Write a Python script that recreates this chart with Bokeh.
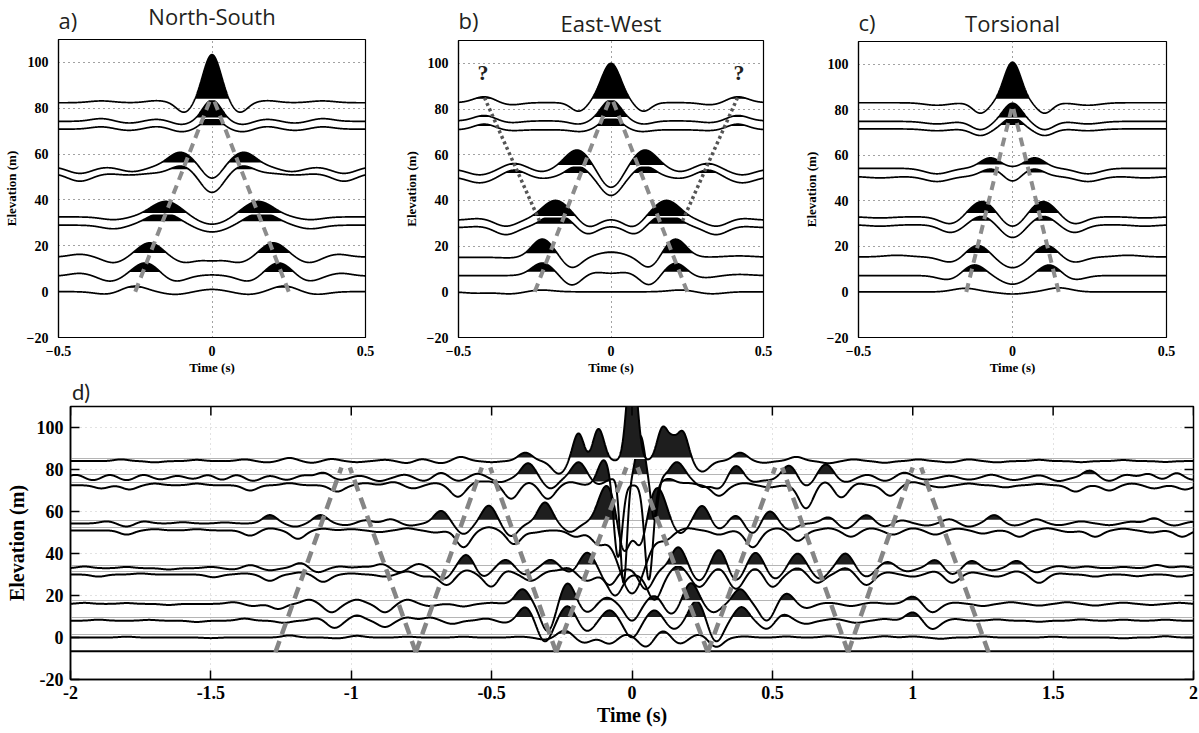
import numpy as np
from bokeh.plotting import figure
from bokeh.models import Range1d, FixedTicker
from bokeh.core.properties import value
from bokeh.layouts import column, row
from bokeh.embed import file_html
from bokeh.resources import INLINE

SERIF = "Liberation Serif"
SANS = "Open Sans"

# ---------------- data ----------------
# Each trace: resting elevation (m) and its pulses (time s, amplitude m[, width s])
top_xticks = [-0.5, 0, 0.5]
top_yticks = [-20, 0, 20, 40, 60, 80, 100]
d_xticks = [-2, -1.5, -1, -0.5, 0, 0.5, 1, 1.5, 2]
d_yticks = [-20, 0, 20, 40, 60, 80, 100]

panel_letters = ["a)", "b)", "c)", "d)"]
panel_titles = ["North-South", "East-West", "Torsional"]

a_base = [0.0, 6.8, 15.1, 29.0, 32.6, 51.7, 54.6, 70.9, 74.3, 82.4]
a_pulses = [
    [(-0.34, -1.2, 0.04), (-0.255, 2.5, 0.04), (-0.12, -1.2, 0.04), (0.0, 1.0, 0.04), (0.12, -1.2, 0.04), (0.235, 2.5, 0.04), (0.34, -1.2, 0.04)],
    [(-0.43, 1.2, 0.035), (-0.33, -2.3, 0.035), (-0.217, 5.8, 0.04), (-0.12, -2.4, 0.035), (0.0, 0.5, 0.04), (0.12, -2.4, 0.035), (0.217, 5.8, 0.04), (0.315, -2.3, 0.035), (0.42, 1.2, 0.035)],
    [(-0.43, 1.2, 0.035), (-0.32, -2.5, 0.035), (-0.203, 6.2, 0.04), (-0.09, -2.4, 0.035), (0.0, -1.5, 0.035), (0.09, -2.4, 0.035), (0.20, 6.2, 0.04), (0.315, -2.5, 0.035), (0.41, 1.2, 0.035)],
    [(-0.32, -1.6, 0.04), (-0.16, 5.5, 0.05), (0.0, -3.0, 0.05), (0.16, 5.5, 0.05), (0.32, -1.6, 0.04)],
    [(-0.32, -1.2, 0.04), (-0.15, 6.8, 0.05), (0.0, -3.3, 0.05), (0.15, 6.8, 0.05), (0.32, -1.2, 0.04)],
    [(-0.43, -3.5, 0.04), (-0.27, -0.8, 0.04), (-0.1, 3.2, 0.035), (0.0, -8.5, 0.035), (0.1, 3.2, 0.035), (0.27, -0.8, 0.04), (0.43, -3.5, 0.04)],
    [(-0.43, -3.0, 0.04), (-0.26, -2.2, 0.04), (-0.103, 6.2, 0.04), (0.0, -5.5, 0.03), (0.103, 6.2, 0.04), (0.26, -2.2, 0.04), (0.43, -3.0, 0.04)],
    [(-0.36, 1.0, 0.035), (-0.27, -0.6, 0.035), (-0.18, 1.1, 0.035), (-0.1, -1.2, 0.03), (0.0, 5.2, 0.03), (0.1, -1.2, 0.03), (0.18, 1.1, 0.035), (0.27, -0.6, 0.035), (0.36, 1.0, 0.035)],
    [(-0.36, 1.2, 0.035), (-0.27, -0.8, 0.035), (-0.18, 0.9, 0.035), (-0.1, -1.4, 0.03), (0.0, 9.3, 0.03), (0.1, -1.4, 0.03), (0.18, 0.9, 0.035), (0.27, -0.8, 0.035), (0.36, 1.2, 0.035)],
    [(-0.36, 0.8, 0.04), (-0.18, 0.9, 0.035), (-0.09, -4.3, 0.025), (0.0, 21.0, 0.029), (0.09, -4.3, 0.025), (0.18, 0.9, 0.035), (0.36, 0.8, 0.04)],
]

b_base = [0.0, 7.1, 15.1, 28.1, 31.4, 50.3, 53.8, 70.9, 74.8, 82.8]
b_pulses = [
    [(-0.44, -0.6, 0.04), (-0.33, -0.9, 0.04), (-0.23, 0.8, 0.04), (0.23, 0.8, 0.04), (0.33, -0.9, 0.04)],
    [(-0.225, 5.5, 0.035), (-0.128, -4.3, 0.03), (-0.05, 1.4, 0.035), (0.05, 1.4, 0.035), (0.125, -4.3, 0.03), (0.212, 5.5, 0.035), (0.3, -1.0, 0.04), (0.42, 0.5, 0.04)],
    [(-0.32, -0.3, 0.04), (-0.225, 8.0, 0.035), (-0.128, -4.6, 0.03), (0.0, 2.3, 0.045), (0.125, -4.6, 0.03), (0.211, 8.0, 0.035), (0.42, 0.6, 0.05)],
    [(-0.43, 0.5, 0.035), (-0.345, -3.1, 0.035), (-0.18, 6.0, 0.045), (-0.079, -3.1, 0.03), (0.0, 0.5, 0.03), (0.079, -3.1, 0.03), (0.18, 6.0, 0.045), (0.345, -3.1, 0.035), (0.43, 0.5, 0.035)],
    [(-0.43, 0.7, 0.035), (-0.345, -2.7, 0.035), (-0.182, 8.6, 0.045), (-0.073, -3.2, 0.03), (0.0, 0.4, 0.03), (0.073, -3.2, 0.03), (0.182, 8.6, 0.045), (0.345, -2.7, 0.035), (0.43, 0.7, 0.035)],
    [(-0.43, -2.6, 0.04), (-0.318, 3.0, 0.035), (-0.225, -0.7, 0.03), (-0.11, 4.7, 0.035), (0.0, -8.2, 0.035), (0.11, 4.7, 0.035), (0.225, -0.7, 0.03), (0.318, 3.0, 0.035), (0.43, -2.6, 0.04)],
    [(-0.43, -2.6, 0.04), (-0.318, 2.4, 0.035), (-0.225, -1.3, 0.03), (-0.111, 8.3, 0.04), (0.0, -8.4, 0.035), (0.111, 8.3, 0.04), (0.225, -1.3, 0.03), (0.318, 2.4, 0.035), (0.43, -2.6, 0.04)],
    [(-0.415, 2.5, 0.035), (-0.33, -0.4, 0.035), (-0.1, -0.8, 0.03), (0.0, 5.5, 0.033), (0.1, -0.8, 0.03), (0.33, -0.4, 0.035), (0.415, 2.5, 0.035)],
    [(-0.415, 2.4, 0.035), (-0.33, -0.8, 0.035), (-0.106, -1.4, 0.03), (0.0, 9.2, 0.033), (0.106, -1.4, 0.03), (0.33, -0.8, 0.035), (0.415, 2.4, 0.035)],
    [(-0.415, 2.6, 0.035), (-0.33, -1.0, 0.035), (-0.106, -3.8, 0.025), (0.0, 17.2, 0.032), (0.106, -3.8, 0.025), (0.33, -1.0, 0.035), (0.415, 2.6, 0.035)],
]

c_base = [0.0, 7.2, 15.4, 29.5, 33.0, 50.7, 54.3, 71.6, 74.9, 83.1]
c_pulses = [
    [(-0.153, 1.6, 0.04), (0.0, -0.9, 0.04), (0.151, 1.8, 0.04)],
    [(-0.207, -1.9, 0.035), (-0.124, 4.8, 0.035), (0.0, -3.8, 0.04), (0.12, 4.8, 0.035), (0.2, -1.9, 0.035)],
    [(-0.375, 0.7, 0.04), (-0.2, -2.4, 0.035), (-0.113, 5.2, 0.035), (0.0, -4.8, 0.04), (0.11, 5.2, 0.035), (0.2, -2.4, 0.035), (0.375, 0.7, 0.04)],
    [(-0.43, -0.6, 0.04), (-0.2, -3.4, 0.035), (-0.1, 3.8, 0.035), (0.0, -5.7, 0.035), (0.1, 3.8, 0.035), (0.2, -3.4, 0.035), (0.43, -0.6, 0.04)],
    [(-0.43, -0.5, 0.04), (-0.2, -3.2, 0.035), (-0.099, 6.8, 0.04), (0.0, -4.7, 0.035), (0.099, 6.8, 0.04), (0.2, -3.2, 0.035), (0.43, -0.5, 0.04)],
    [(-0.43, -0.6, 0.04), (-0.245, -2.2, 0.04), (-0.07, 3.3, 0.033), (0.0, -2.6, 0.025), (0.07, 3.3, 0.033), (0.245, -2.2, 0.04), (0.43, -0.6, 0.04)],
    [(-0.245, -2.4, 0.04), (-0.072, 4.6, 0.033), (0.072, 4.6, 0.033), (0.245, -2.4, 0.04)],
    [(-0.245, -0.8, 0.04), (-0.104, -2.9, 0.03), (0.0, 5.0, 0.03), (0.104, -2.9, 0.03), (0.245, -0.8, 0.04)],
    [(-0.245, -1.1, 0.04), (-0.104, -3.6, 0.03), (0.0, 8.0, 0.03), (0.104, -3.6, 0.03), (0.245, -1.1, 0.04)],
    [(-0.245, -1.1, 0.04), (-0.104, -4.6, 0.025), (0.0, 17.8, 0.028), (0.104, -4.6, 0.025), (0.245, -1.1, 0.04)],
]

d_floor = -6.5
d_base = [0.0, 8.0, 16.0, 30.0, 33.0, 51.0, 54.3, 72.5, 76.0, 84.0]
d_pulses = [
    [(-1.80, 0.4), (-1.50, -0.3), (-1.22, 1.0), (-1.05, -0.4), (-0.98, 0.8), (-0.80, 0.4), (-0.60, 0.4), (-0.40, 0.4), (-0.31, -1.0), (-0.24, 3.3), (-0.17, -2.5), (-0.08, -3.0), (-0.02, 1.5), (0.05, -4.5), (0.11, 3.3), (0.17, -3.0), (0.24, 1.5), (0.30, -4.5), (0.40, 0.5), (0.55, 0.5), (0.70, 0.6), (0.80, -0.5), (0.90, 0.6), (1.00, 0.5), (1.10, -0.6), (1.25, 0.5), (1.50, 0.4), (1.75, -0.4), (1.90, 0.6)],
    [(-1.90, 0.5), (-1.72, 0.4), (-1.55, -0.6), (-1.38, 1.0), (-1.24, -1.0), (-1.12, 1.2), (-1.06, -3.5), (-0.98, 2.5), (-0.88, -3.0), (-0.80, 1.5), (-0.72, 1.5), (-0.64, -1.5), (-0.52, 1.0), (-0.45, -1.0), (-0.38, 6.5), (-0.31, -10), (-0.23, 7), (-0.16, -5), (-0.08, 5), (0.0, -8), (0.08, 5), (0.15, -4), (0.23, 9.5), (0.30, -10), (0.39, 6.5), (0.48, -4), (0.54, 3), (0.62, -1.5), (0.72, 0.8), (0.80, -1.0), (0.90, 0.8), (1.00, 4), (1.07, -4), (1.15, 0.8), (1.30, 0.6), (1.45, -0.5), (1.60, 0.6), (1.75, 0.5), (1.90, 0.5)],
    [(-1.95, 0.5), (-1.80, 0.4), (-1.65, -0.5), (-1.42, 0.8), (-1.35, -1.0), (-1.26, -2.4), (-1.15, 2.0), (-1.07, -4.0), (-0.98, 2.0), (-0.88, -4.0), (-0.80, 2.0), (-0.72, -1.0), (-0.60, -1.2), (-0.50, 0.5), (-0.39, 7), (-0.30, -13), (-0.23, 10), (-0.16, -4), (-0.09, 3), (0.0, -8), (0.08, 4), (0.14, -5), (0.21, 10), (0.29, -4), (0.385, 7), (0.48, -8), (0.55, 5), (0.62, -2), (0.70, 0.5), (0.78, -1), (0.86, 0.6), (1.00, 3.5), (1.07, -4), (1.15, 0.6), (1.25, -1), (1.35, 0.8), (1.45, -0.8), (1.55, 0.8), (1.65, -0.8), (1.75, 0.6), (1.85, -0.5), (1.95, 0.5)],
    [(-1.90, -1.0), (-1.75, 0.5), (-1.49, -1.3), (-1.38, 0.5), (-1.29, -3), (-1.18, 1.0), (-1.10, -3.5), (-1.00, 0.5), (-0.88, -1.0), (-0.80, 1.5), (-0.74, -1.0), (-0.66, -5), (-0.59, 2), (-0.50, -6), (-0.45, 2), (-0.36, -3), (-0.29, 1.5), (-0.23, 3), (-0.16, -3), (-0.06, -10), (0.08, -12), (0.165, 4), (0.24, -6), (0.31, 3), (0.37, -7), (0.44, 3), (0.50, -6), (0.59, 3), (0.66, -4), (0.76, 3), (0.835, -5), (0.91, 1.0), (1.00, -1.0), (1.08, 1.5), (1.14, -4), (1.21, 1.0), (1.30, -1.0), (1.37, 1.5), (1.45, -4), (1.52, 0.5), (1.65, -1.0), (1.80, -0.8), (1.95, -1.0)],
    [(-1.95, 0.8), (-1.80, 0.6), (-1.65, -0.6), (-1.50, 0.6), (-1.42, -0.6), (-1.36, 1.5), (-1.29, -1.0), (-1.18, 2.5), (-1.12, -2.0), (-1.04, 0.8), (-0.96, 0.6), (-0.89, 2.0), (-0.83, -2.0), (-0.76, 2.0), (-0.67, -5), (-0.59, 6.5), (-0.53, -4), (-0.45, 4), (-0.38, -3), (-0.29, 4), (-0.22, -2), (-0.16, 7.5), (-0.08, -8), (0.05, -10), (0.165, 10), (0.24, -6), (0.31, 9), (0.37, -6), (0.44, 7.5), (0.51, -5), (0.59, 7), (0.67, -5), (0.76, 7), (0.835, -4), (0.91, 3), (0.98, -1.5), (1.08, 4), (1.14, -3), (1.21, 3.5), (1.28, -1.0), (1.37, 3.5), (1.44, -2.0), (1.52, 1.0), (1.62, 0.8), (1.75, 0.6), (1.87, 1.5), (1.96, 0.8)],
    [(-1.80, -2.0), (-1.70, 0.6), (-1.55, 0.6), (-1.36, -2.5), (-1.29, 1.0), (-1.19, -4), (-1.10, 0.8), (-1.00, 0.6), (-0.90, -0.8), (-0.80, 1.0), (-0.70, -1.0), (-0.60, -8), (-0.51, 1.5), (-0.42, -6.5), (-0.35, -1.0), (-0.20, -3), (-0.12, -6), (0.0, -30, 0.045), (0.12, -4), (0.20, 1.0), (0.31, -2), (0.43, -8), (0.52, 1.0), (0.59, -5), (0.70, 1.0), (0.78, -3), (0.85, 1.0), (0.93, -2), (1.00, 1.0), (1.08, -2), (1.16, 0.8), (1.25, -1.5), (1.38, -3), (1.48, 1.0), (1.56, -0.8), (1.65, -3), (1.75, 0.8), (1.85, -1.0), (1.96, -3)],
    [(-1.87, 1.0), (-1.80, -1.5), (-1.74, 1.0), (-1.60, 0.6), (-1.45, 0.5), (-1.29, 4), (-1.20, -1.5), (-1.11, 4), (-1.02, -0.8), (-0.95, 1.5), (-0.86, 2), (-0.79, -1.0), (-0.68, 6), (-0.60, -5), (-0.51, 8.5), (-0.43, -6), (-0.31, 10), (-0.22, -4), (-0.09, 18, 0.03), (-0.03, -15, 0.02), (0.03, -12, 0.02), (0.09, 17, 0.03), (0.17, -5), (0.25, 8.5), (0.31, -3), (0.37, 4), (0.43, -5), (0.49, 6), (0.56, -3), (0.70, 3), (0.76, -2.5), (0.835, 4), (0.90, -1.5), (0.96, 1.5), (1.05, -1.0), (1.13, 2), (1.20, -1.5), (1.29, 4), (1.36, -1.0), (1.44, 2), (1.52, -0.8), (1.60, 1.0), (1.70, -0.8), (1.78, 0.8), (1.86, 2.5), (1.93, -1.0), (2.00, 0.8)],
    [(-1.89, -1.5), (-1.79, -2), (-1.70, 0.8), (-1.55, 0.8), (-1.36, -2.5), (-1.22, 1.0), (-1.05, -3), (-0.95, 1.0), (-0.85, 1.5), (-0.78, -1.5), (-0.70, 1.0), (-0.62, -5.5), (-0.55, 1.5), (-0.50, 1.5), (-0.43, -6.5), (-0.37, 1.5), (-0.30, -6.5), (-0.22, 1.5), (-0.10, 12, 0.022), (-0.05, -35, 0.015), (0.06, -45, 0.015), (0.13, 3), (0.20, 1.0), (0.31, -5), (0.40, 1.0), (0.49, -1.0), (0.62, -11), (0.69, 2), (0.745, -6), (0.80, 1.0), (0.92, -5), (1.00, 1.5), (1.10, -1.0), (1.20, 0.8), (1.33, -1.0), (1.45, 0.6), (1.58, -3), (1.70, -2.5), (1.78, 0.8), (1.86, -1.5), (1.97, -2)],
    [(-1.98, 1.5), (-1.92, -1.2), (-1.86, 1.5), (-1.80, -1.2), (-1.74, 1.5), (-1.68, -0.8), (-1.62, 1.0), (-1.56, -0.6), (-1.51, 1.5), (-1.46, -1.2), (-1.41, 1.5), (-1.35, -1.5), (-1.29, 1.0), (-1.23, -1.0), (-1.17, 1.2), (-1.10, 2.5), (-1.04, -1.0), (-0.97, 1.0), (-0.90, -1.5), (-0.81, 1.5), (-0.74, -1.5), (-0.68, 2.5), (-0.62, -1.5), (-0.55, 2.0), (-0.47, -2.0), (-0.37, 7), (-0.29, -5), (-0.19, 7.5), (-0.12, -3), (-0.03, -50, 0.012), (0.03, 20, 0.015), (0.08, -20, 0.012), (0.16, 7.5), (0.25, -4), (0.31, -5), (0.37, 6), (0.43, -2), (0.49, -1.0), (0.56, 6), (0.62, -4), (0.69, 6.5), (0.76, -2), (0.84, 1.5), (0.90, -1.5), (0.97, 2.5), (1.05, -0.8), (1.13, 1.0), (1.20, -0.8), (1.28, 1.5), (1.36, -1.0), (1.45, 1.2), (1.52, -1.5), (1.63, 3.5), (1.70, -1.5), (1.76, 1.5), (1.84, 2.0), (1.89, -1.0), (1.94, 2.5), (1.99, -1.0)],
    [(-1.82, 0.8), (-1.70, -0.6), (-1.55, 0.6), (-1.38, 0.8), (-1.30, -0.6), (-1.22, 1.5), (-1.14, -0.8), (-1.07, 1.0), (-0.98, -0.5), (-0.88, 0.6), (-0.80, -1.0), (-0.75, 1.0), (-0.68, -1.0), (-0.61, 2.0), (-0.50, -0.5), (-0.38, 4), (-0.26, -6), (-0.19, 14, 0.02), (-0.155, -2), (-0.12, 16, 0.02), (0.0, 50, 0.018), (0.11, 16, 0.02), (0.145, 6, 0.015), (0.18, 14, 0.02), (0.25, -5), (0.385, 4), (0.47, -0.8), (0.585, 2.0), (0.70, -1.0), (0.79, 0.8), (0.90, -0.8), (1.02, 0.8), (1.13, -0.6), (1.20, 0.8), (1.30, -0.6), (1.45, 0.6), (1.60, -0.5), (1.75, 0.5), (1.90, -0.4)],
]

# move-out guide lines (time s, elevation m)
a_guides = [([-0.25, -0.005], [0, 84]), ([0.25, 0.005], [0, 84])]
b_guides = [([-0.25, -0.005], [0, 84]), ([0.25, 0.005], [0, 84])]
b_dotted = [([-0.415, -0.233], [85, 30.6]), ([0.415, 0.233], [85, 30.6])]
b_marks_t = [-0.42, 0.42]
b_marks_y = [96, 96]
c_guides = [([-0.15, -0.003], [0, 80.4]), ([0.15, 0.003], [0, 80.4])]
d_guide_bottom = [-1.27, -0.77, -0.77, -0.27, -0.27, 0.27, 0.27, 0.77, 0.77, 1.27]
d_guide_top = [-1.035, -1.005, -0.535, -0.505, -0.02, 0.02, 0.51, 0.535, 1.0, 1.03]
d_guide_low, d_guide_high = -7, 81


def wave(t, base, pulses, sig_default):
    y = np.full_like(t, base, dtype=float)
    for pl in pulses:
        s = pl[2] if len(pl) > 2 else sig_default
        y += pl[1] * np.exp(-0.5 * ((t - pl[0]) / s) ** 2)
    return y


def draw_traces(p, t, bases, pulses, sig, fill_color, lw):
    for base, pl in zip(bases, pulses):
        y = wave(t, base, pl, sig)
        thr = base + 1.4
        p.varea(x=t, y1=np.full_like(t, thr), y2=np.maximum(y, thr), fill_color=fill_color)
        p.line(t, np.where(y > thr, thr, np.nan), line_color="white", line_width=1.5)
        p.line(t, y, line_color="black", line_width=lw)


def fmt(v, minus):
    return f"{v:g}".replace("-", minus)


def strip(width, left, right, height, xr, texts, xs, ys, aligns, font=SANS, size="22px"):
    s = figure(width=width, height=height, x_range=Range1d(*xr), y_range=Range1d(0, height),
               output_backend="svg", toolbar_location=None, x_axis_type=None, y_axis_type=None,
               title=None,
               min_border_left=left, min_border_right=right, min_border_top=0, min_border_bottom=0)
    s.outline_line_color = None
    s.background_fill_color = "white"
    s.border_fill_color = "white"
    for tx, x, y, al in zip(texts, xs, ys, aligns):
        s.text(x=[x], y=[y], text=[tx], text_font=value(font), text_font_size=size,
               text_align=al, text_baseline="middle", text_color="#231f20")
    return s


def top_panel(width, left, right, height, bottom, bases, pulses, guides):
    p = figure(width=width, height=height, x_range=Range1d(-0.5, 0.5), y_range=Range1d(-20, 110),
               output_backend="svg", toolbar_location=None, title=None,
               min_border_left=left, min_border_right=right, min_border_top=1,
               min_border_bottom=bottom)
    p.background_fill_color = "white"
    p.border_fill_color = "white"
    p.outline_line_color = "black"
    p.outline_line_width = 1.2
    p.xaxis.ticker = FixedTicker(ticks=top_xticks)
    p.xaxis.major_label_overrides = {v: fmt(v, "\u2212") for v in top_xticks}
    p.yaxis.ticker = FixedTicker(ticks=top_yticks)
    p.yaxis.major_label_overrides = {v: fmt(v, "\u2212") for v in top_yticks}
    for ax in (p.xaxis, p.yaxis):
        ax.major_tick_line_color = None
        ax.minor_tick_line_color = None
        ax.axis_line_color = "black"
        ax.axis_line_width = 1.2
        ax.major_label_text_font = SERIF
        ax.major_label_text_font_style = "bold"
        ax.major_label_text_font_size = "14px"
        ax.major_label_text_color = "black"
        ax.axis_label_text_font = SERIF
        ax.axis_label_text_font_style = "bold"
        ax.axis_label_text_font_size = "13px"
        ax.axis_label_text_color = "black"
    p.xaxis.major_label_standoff = 2
    p.xaxis.axis_label_standoff = 1
    p.yaxis.major_label_standoff = 4
    p.yaxis.axis_label_standoff = 5
    p.xaxis.axis_label = "Time (s)"
    p.yaxis.axis_label = "Elevation (m)"
    p.xgrid.ticker = FixedTicker(ticks=[0])
    p.ygrid.ticker = FixedTicker(ticks=[20, 40, 60, 80, 100])
    p.grid.grid_line_color = "#444444"
    p.grid.grid_line_dash = "1 4"
    p.grid.grid_line_width = 1

    t = np.linspace(-0.5, 0.5, 1500)
    draw_traces(p, t, bases, pulses, 0.035, "black", 1.7)
    for xs, ys in guides:
        p.line(xs, ys, line_color="#8c8c8c", line_width=4, line_dash="9 6")
    return p


# top row: title strips + panels (total height 377); text y = centre height in the strip
sa = strip(400, 58, 35, 38, (-0.5, 0.5), [panel_letters[0], panel_titles[0]], [-0.5, 0], [19.0, 22.5], ["left", "center"])
sb = strip(400, 56, 37, 39, (-0.5, 0.5), [panel_letters[1], panel_titles[1]], [-0.5, 0], [19.5, 17.0], ["left", "center"])
sc = strip(399, 58, 33, 40, (-0.5, 0.5), [panel_letters[2], panel_titles[2]], [-0.5, 0], [18.5, 18.0], ["left", "center"])

pa = top_panel(400, 58, 35, 339, 39, a_base, a_pulses, a_guides)
pb = top_panel(400, 56, 37, 338, 39, b_base, b_pulses, b_guides)
pc = top_panel(399, 58, 33, 337, 37, c_base, c_pulses, c_guides)

for xs, ys in b_dotted:
    pb.line(xs, ys, line_color="#555555", line_width=3.5, line_dash="3 3")
pb.text(x=b_marks_t, y=b_marks_y, text=["?", "?"], text_font=value(SERIF), text_font_size="22px",
        text_font_style="bold", text_align="center", text_baseline="middle", text_color="#231f20")

# ---------------- panel d ----------------
sd = strip(1199, 70, 6, 28, (-2, 2), [panel_letters[3]], [-1.995], [14.0], ["left"], font="Lato", size="22px")

pd_ = figure(width=1199, height=328, x_range=Range1d(-2, 2), y_range=Range1d(-20, 110),
             output_backend="svg", toolbar_location=None, title=None,
             min_border_left=70, min_border_right=6, min_border_top=1, min_border_bottom=54)
pd_.background_fill_color = "white"
pd_.border_fill_color = "white"
pd_.outline_line_color = "black"
pd_.outline_line_width = 1.5
xa = pd_.below[0]
ya = pd_.left[0]
xa.ticker = FixedTicker(ticks=d_xticks)
xa.major_label_overrides = {v: fmt(v, "-") for v in d_xticks}
ya.ticker = FixedTicker(ticks=d_yticks)
ya.major_label_overrides = {v: fmt(v, "-") for v in d_yticks}
for ax in (xa, ya):
    ax.major_tick_in = 9
    ax.major_tick_out = 0
    ax.major_tick_line_color = "black"
    ax.major_tick_line_width = 1.5
    ax.minor_tick_line_color = None
    ax.axis_line_color = "black"
    ax.axis_line_width = 1.5
    ax.major_label_text_font = SERIF
    ax.major_label_text_font_style = "bold"
    ax.major_label_text_font_size = "18px"
    ax.major_label_text_color = "black"
    ax.axis_label_text_font = SERIF
    ax.axis_label_text_font_style = "bold"
    ax.axis_label_text_font_size = "20px"
    ax.axis_label_text_color = "black"
xa.axis_label = "Time (s)"
ya.axis_label = "Elevation (m)"
xa.major_label_standoff = 6
xa.axis_label_standoff = 2
ya.major_label_standoff = 7
ya.axis_label_standoff = 6
pd_.xgrid.ticker = FixedTicker(ticks=d_xticks)
pd_.ygrid.ticker = FixedTicker(ticks=d_yticks)
pd_.grid.grid_line_color = "#c4c4c4"
pd_.grid.grid_line_dash = "1 4"

td = np.linspace(-2, 2, 5000)
pd_.hspan(y=[b + 1.4 for b in d_base], line_color="#b5b5b5", line_width=1)
pd_.line([-2, 2], [d_floor, d_floor], line_color="black", line_width=2)
draw_traces(pd_, td, d_base, d_pulses, 0.025, "#1e1e1e", 2.0)
for tb, tt in zip(d_guide_bottom, d_guide_top):
    pd_.line([tb, tt], [d_guide_low, d_guide_high], line_color="#858585", line_width=4.5, line_dash="12 7")

# inward ticks on the top and right edges of panel d (box-style axes)
tick_dy = 9 / 2.1
tick_dx = 9 / 281.0
pd_.segment(x0=d_xticks, y0=[110] * len(d_xticks), x1=d_xticks, y1=[110 - tick_dy] * len(d_xticks),
            line_color="black", line_width=1.5)
pd_.segment(x0=[2] * len(d_yticks), y0=d_yticks, x1=[2 - tick_dx] * len(d_yticks), y1=d_yticks,
            line_color="black", line_width=1.5)

layout = column(row(column(sa, pa), column(sb, pb), column(sc, pc)), column(sd, pd_))
open("out.html", "w").write(file_html(layout, INLINE))
